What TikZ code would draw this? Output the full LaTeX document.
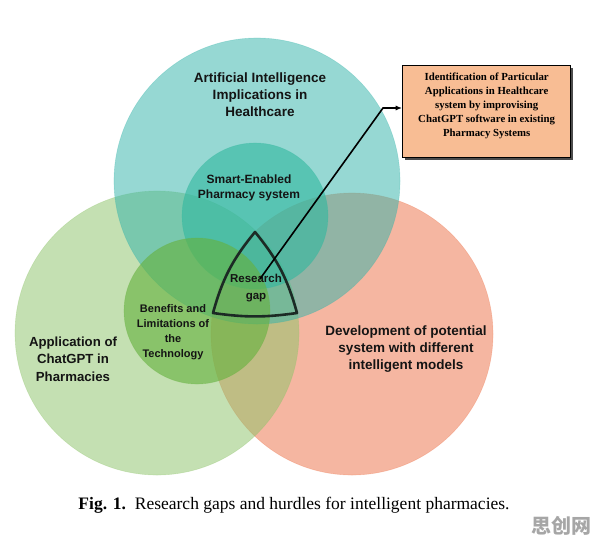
\documentclass[tikz,border=0pt]{standalone}
\usepackage{fontspec}
\setmainfont{Liberation Serif}
\setsansfont{Liberation Sans}
\newfontfamily\cjkfont{Noto Sans CJK SC}
\usetikzlibrary{arrows.meta,shadows}
\definecolor{ink}{HTML}{141414}
\definecolor{aiteal}{HTML}{35B4AA}
\definecolor{smartteal}{HTML}{33B8A0}
\definecolor{appgreen}{HTML}{8EC36B}
\definecolor{techgreen}{HTML}{66B23F}
\definecolor{devorange}{HTML}{EC734A}
\definecolor{peach}{HTML}{F8BD94}
\definecolor{gapline}{HTML}{1C2A25}
\tikzset{venn/.style={circle,inner sep=0pt,outer sep=0pt,fill opacity=0.52,
  draw opacity=0.3,line width=0.6pt},
  subvenn/.style={venn,fill opacity=0.62},
  lbl/.style={align=center,text=ink,inner sep=0pt,
  font=\sffamily\bfseries\fontsize{13.5}{17}\selectfont},
  sublbl/.style={lbl,font=\sffamily\bfseries\fontsize{11}{15}\selectfont},
  goalbox/.style={draw=black,line width=1.3pt,fill=peach,inner sep=4pt,
  font=\bfseries\fontsize{10.8}{14}\selectfont,
  drop shadow={shadow xshift=2pt,shadow yshift=-2pt,fill=black!70,opacity=1}},
  arrow/.style={-{Latex[length=2.2mm,width=1.8mm]},line width=1.6pt,draw=black}}

\begin{document}
\begin{tikzpicture}[x=1pt,y=-1pt]
\useasboundingbox (0,0) rectangle (596,542);
% big circles
\node[venn,minimum size=282pt,fill=devorange,draw=devorange] (devC) at (352,334) {};
\node[venn,minimum size=284pt,fill=appgreen,draw=appgreen] (appC) at (157,333) {};
\node[venn,minimum size=286pt,fill=aiteal,draw=aiteal] (aiC) at (257,181) {};
% inner circles
\node[subvenn,minimum size=146pt,fill=smartteal,draw=smartteal] (smartC) at (255,216) {};
\node[subvenn,minimum size=146pt,fill=techgreen,draw=techgreen] (techC) at (197,311) {};
% research gap outline
\draw[gapline,line width=2.6pt,line join=round]
  (255,232) to[bend right=12] (213,313) to[bend right=8] (297,313)
  to[bend right=12] cycle;
% labels
\node[lbl] (ai) at (260,95) {Artificial Intelligence\\Implications in\\Healthcare};
\node[lbl,font=\sffamily\bfseries\fontsize{12}{15}\selectfont] (smart) at (249,188)
  {Smart-Enabled\\Pharmacy system};
\node[lbl,font=\sffamily\bfseries\fontsize{11.5}{17}\selectfont] (gap) at (256,288)
  {Research\\gap};
\node[sublbl] (tech) at (173,332) {Benefits and\\Limitations of\\the\\Technology};
\node[lbl,font=\sffamily\bfseries\fontsize{13.2}{17.5}\selectfont] (app) at (73,359)
  {Application of\\ChatGPT in\\Pharmacies};
\node[lbl] (dev) at (406,349) {Development of potential\\system with different\\intelligent models};
% target box
\node[goalbox,anchor=north west] (goal) at (402,65)
  {\parbox[c][84pt][t]{160pt}{\centering\vspace*{3pt}Identification of Particular\\
  Applications in Healthcare\\system by improvising\\ChatGPT software in existing\\
  Pharmacy Systems}};
\coordinate (elbow) at (383,108);
\draw[arrow] ([xshift=4pt,yshift=-5pt]gap.north) -- (elbow) -- (elbow -| goal.west);
% caption
\node[inner sep=0pt,font=\fontsize{17.5}{20}\selectfont] (cap) at (294,505)
  {\textbf{Fig. 1.}\ \ Research gaps and hurdles for intelligent pharmacies.};
\node[inner sep=0pt,text=black!35,font=\cjkfont\bfseries\fontsize{20}{22}\selectfont]
  (mark) at (561,526) {思创网};
\end{tikzpicture}
\end{document}
